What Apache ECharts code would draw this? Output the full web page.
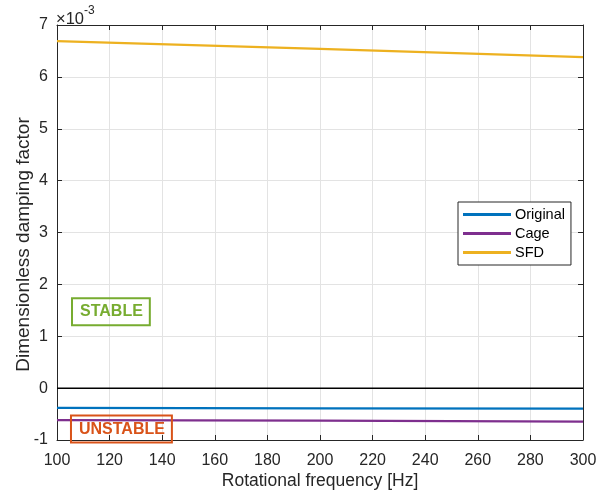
<!DOCTYPE html>
<html>
<head>
<meta charset="utf-8">
<script src="https://cdn.jsdelivr.net/npm/echarts@6/dist/echarts.min.js"></script>
<style>
  html, body { margin: 0; padding: 0; background: #fff; }
  #chart { width: 599px; height: 497px; }
</style>
</head>
<body>
<div id="chart"></div>
<script>
// 数据 (values are x 1e-3)
const freq = [100, 200, 300]
const original = [-0.38, -0.39, -0.395]
const cage = [-0.615, -0.625, -0.645]
const sfd = [6.69, 6.54, 6.38]
const xTicks = [100, 120, 140, 160, 180, 200, 220, 240, 260, 280, 300]
const yTicks = [-1, 0, 1, 2, 3, 4, 5, 6, 7]

const font = '"Liberation Sans", Arial, sans-serif'
const axisColor = '#262626'

const pairs = (ys) => freq.map((f, i) => [f, ys[i]])

// 注释框
const boxLabel = (text, color) => ({
  show: true,
  position: 'inside',
  formatter: text,
  color: color,
  fontWeight: 'bold',
  fontSize: 16,
  fontFamily: font,
  borderColor: color,
  borderWidth: 2,
  padding: [6, 7, 5, 8]
})

let myChart = echarts.init(document.getElementById('chart'))
let option = {
  animation: false,
  textStyle: { fontFamily: font },
  grid: { left: 57, right: 16, top: 25, bottom: 57, containLabel: false, outerBoundsMode: 'none' },
  legend: {
    orient: 'vertical',
    left: 458,
    top: 202,
    width: 112,
    padding: [5, 6, 5, 5],
    itemGap: 4,
    itemWidth: 48,
    itemHeight: 3,
    icon: 'rect',
    borderColor: axisColor,
    borderWidth: 1,
    backgroundColor: '#fff',
    textStyle: { fontSize: 14.5, color: '#000', padding: [0, 0, 0, -1] },
    data: ['Original', 'Cage', 'SFD']
  },
  graphic: [
    {
      type: 'text',
      left: 56,
      top: 5,
      style: {
        text: '{a|×10}{b|-3}',
        rich: {
          a: { fontSize: 16.5, fontFamily: font, fill: axisColor, padding: [6, 0, 0, 0] },
          b: { fontSize: 12, fontFamily: font, fill: axisColor, verticalAlign: 'top' }
        }
      }
    }
  ],
  xAxis: [
    {
      type: 'value',
      min: 100,
      max: 300,
      interval: 20,
      name: 'Rotational frequency [Hz]',
      nameLocation: 'middle',
      nameGap: 32,
      nameMoveOverlap: false,
      nameTextStyle: { fontSize: 17.5, color: axisColor },
      axisLine: { show: true, onZero: false, lineStyle: { color: axisColor } },
      axisTick: { inside: true, length: 5, lineStyle: { color: axisColor } },
      axisLabel: { fontSize: 16, color: axisColor, margin: 13 },
      splitLine: { show: true, lineStyle: { color: '#e3e3e3' } }
    },
    {
      type: 'value',
      position: 'top',
      min: 100,
      max: 300,
      interval: 20,
      axisLine: { show: true, onZero: false, lineStyle: { color: axisColor } },
      axisTick: { inside: true, length: 5, lineStyle: { color: axisColor } },
      axisLabel: { show: false },
      splitLine: { show: false }
    }
  ],
  yAxis: [
    {
      type: 'value',
      min: -1,
      max: 7,
      interval: 1,
      name: 'Dimensionless damping factor',
      nameLocation: 'middle',
      nameGap: 24,
      nameMoveOverlap: false,
      nameTextStyle: { fontSize: 19, color: axisColor, padding: [0, 24, 0, 0] },
      axisLine: { show: true, onZero: false, lineStyle: { color: axisColor } },
      axisTick: { inside: true, length: 5, lineStyle: { color: axisColor } },
      axisLabel: { fontSize: 16, color: axisColor, margin: 9 },
      splitLine: { show: true, lineStyle: { color: '#e3e3e3' } }
    },
    {
      type: 'value',
      position: 'right',
      min: -1,
      max: 7,
      interval: 1,
      axisLine: { show: true, onZero: false, lineStyle: { color: axisColor } },
      axisTick: { inside: true, length: 5, lineStyle: { color: axisColor } },
      axisLabel: { show: false },
      splitLine: { show: false }
    }
  ],
  series: [
    {
      name: 'zero',
      type: 'line',
      data: [[xTicks[0], 0], [xTicks[xTicks.length - 1], 0]],
      showSymbol: false,
      lineStyle: { color: '#000', width: 1.5 },
      z: 1,
      silent: true,
      markPoint: {
        symbol: 'circle',
        symbolSize: 1,
        silent: true,
        itemStyle: { color: 'rgba(0,0,0,0)' },
        data: [
          { coord: [120.5, 1.47], label: boxLabel('STABLE', '#77AC30') },
          { coord: [124.5, -0.79], label: boxLabel('UNSTABLE', '#D95319') }
        ]
      }
    },
    {
      name: 'Original',
      type: 'line',
      data: pairs(original),
      showSymbol: false,
      color: '#0072BD',
      lineStyle: { width: 2.2 }
    },
    {
      name: 'Cage',
      type: 'line',
      data: pairs(cage),
      showSymbol: false,
      color: '#7E2F8E',
      lineStyle: { width: 2.2 }
    },
    {
      name: 'SFD',
      type: 'line',
      data: pairs(sfd),
      showSymbol: false,
      color: '#EDB120',
      lineStyle: { width: 2.2 }
    }
  ]
}
myChart.setOption(option)
</script>
</body>
</html>
